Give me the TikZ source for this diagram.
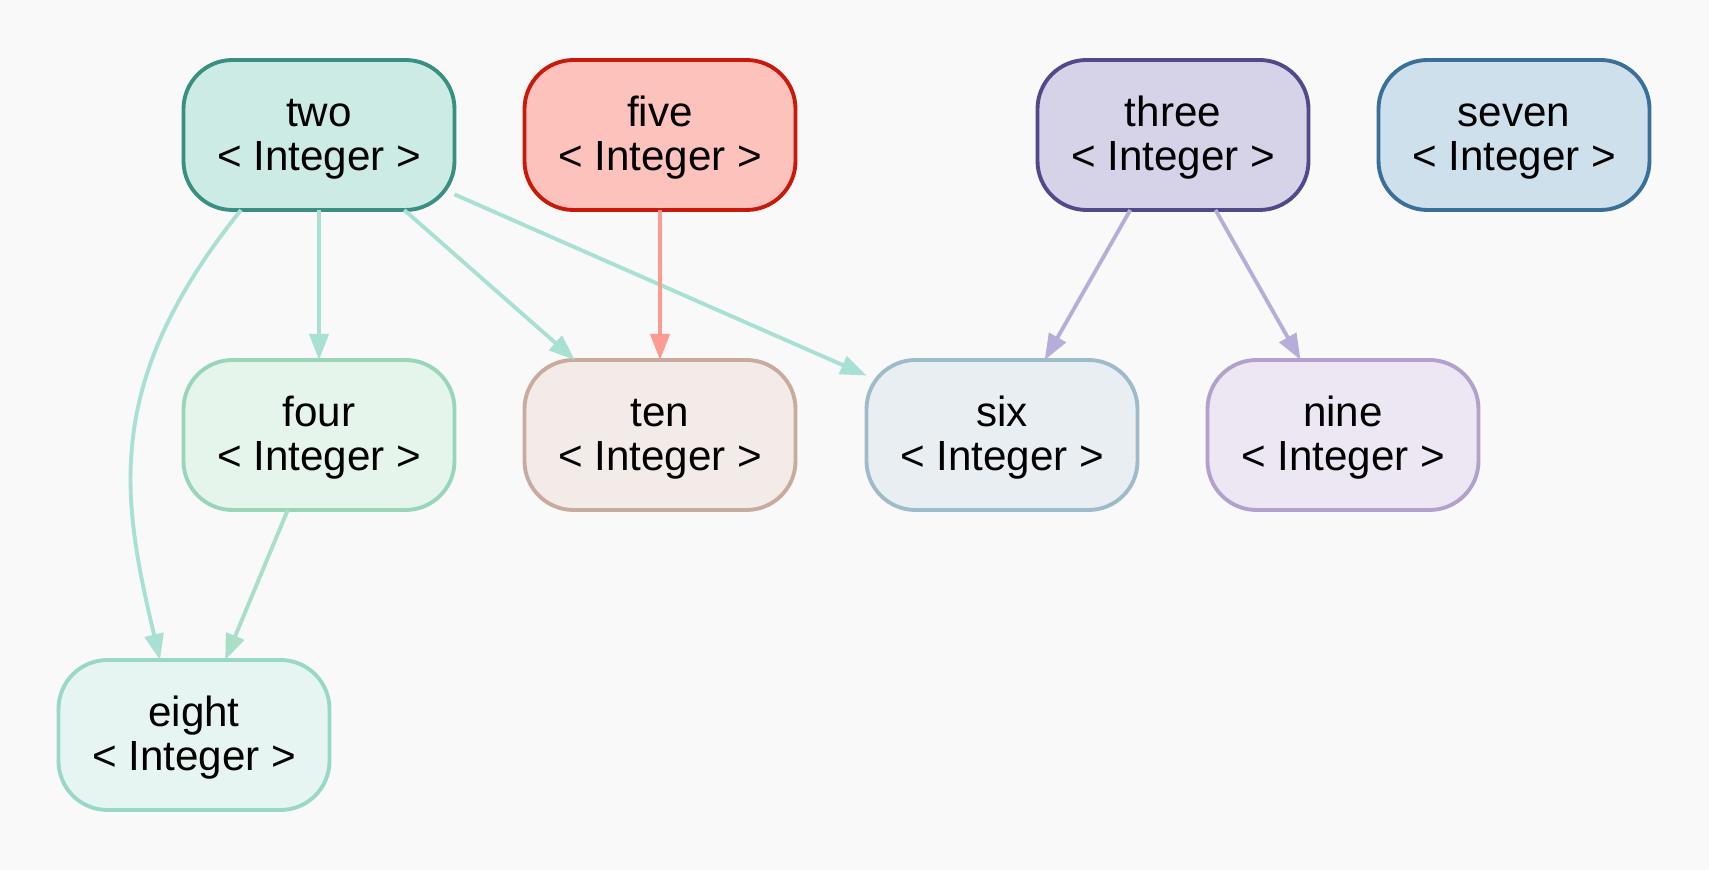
\documentclass[tikz,border=0pt]{standalone}
\usepackage{fontspec}
\setmainfont{Liberation Sans}
\usetikzlibrary{arrows.meta}

\definecolor{bgc}{HTML}{F9F9F9}
\definecolor{twofill}{HTML}{CCEBE5}
\definecolor{twoline}{HTML}{3A9080}
\definecolor{fivefill}{HTML}{FDC2BC}
\definecolor{fiveline}{HTML}{C8190A}
\definecolor{threefill}{HTML}{D6D2E7}
\definecolor{threeline}{HTML}{504A8A}
\definecolor{sevenfill}{HTML}{CDE0EC}
\definecolor{sevenline}{HTML}{3A6F99}
\definecolor{fourfill}{HTML}{E5F5EC}
\definecolor{fourline}{HTML}{99D5B9}
\definecolor{tenfill}{HTML}{F2EBE7}
\definecolor{tenline}{HTML}{C9AB9E}
\definecolor{sixfill}{HTML}{E9EEF3}
\definecolor{sixline}{HTML}{9DBBCB}
\definecolor{ninefill}{HTML}{ECE7F2}
\definecolor{nineline}{HTML}{B3A1CD}
\definecolor{eightfill}{HTML}{E6F5F1}
\definecolor{eightline}{HTML}{99D8C9}
\definecolor{twoedge}{HTML}{A8E0D3}
\definecolor{fouredge}{HTML}{A8DFC6}
\definecolor{fiveedge}{HTML}{FC9B8F}
\definecolor{threeedge}{HTML}{B6AED8}

\newcommand{\intlabel}[1]{\rule{0pt}{11.4pt}#1\\\strut< Integer >}

\begin{document}
\begin{tikzpicture}[>={Triangle[length=0.26cm,width=0.19cm]},
intbox/.style={draw,rounded corners=0.49cm,line width=1.1pt,outer sep=0pt,minimum width=2.71cm,minimum height=1.50cm,align=center,inner sep=0pt,font=\fontsize{12}{12.6}\selectfont},
flow/.style={->,line width=1.1pt},
twoflow/.style={flow,draw=twoedge},
fourflow/.style={flow,draw=fouredge},
fiveflow/.style={flow,draw=fiveedge},
threeflow/.style={flow,draw=threeedge}]
\path[fill=bgc] (0,0) rectangle (17.09,-8.70);
% top row
\node[intbox,draw=twoline,fill=twofill] (two) at (3.19,-1.35) {\intlabel{two}};
\node[intbox,draw=fiveline,fill=fivefill] (five) at (6.60,-1.35) {\intlabel{five}};
\node[intbox,draw=threeline,fill=threefill] (three) at (11.73,-1.35) {\intlabel{three}};
\node[intbox,draw=sevenline,fill=sevenfill] (seven) at (15.14,-1.35) {\intlabel{seven}};
% middle row
\node[intbox,draw=fourline,fill=fourfill] (four) at (3.19,-4.35) {\intlabel{four}};
\node[intbox,draw=tenline,fill=tenfill] (ten) at (6.60,-4.35) {\intlabel{ten}};
\node[intbox,draw=sixline,fill=sixfill] (six) at (10.02,-4.35) {\intlabel{six}};
\node[intbox,draw=nineline,fill=ninefill] (nine) at (13.43,-4.35) {\intlabel{nine}};
% bottom row
\node[intbox,draw=eightline,fill=eightfill] (eight) at (1.94,-7.35) {\intlabel{eight}};
% edges
\draw[twoflow] ([xshift=-0.78cm]two.south) .. controls +(-1.40,-1.74) and +(-0.38,1.61) .. ([xshift=-0.34cm]eight.north);
\draw[twoflow] (two)--(four);
\draw[twoflow] (two)--(ten);
\draw[twoflow] (two)--(six);
\draw[fourflow] (four)--(eight);
\draw[fiveflow] (five)--(ten);
\draw[threeflow] (three)--(six);
\draw[threeflow] (three)--(nine);
\end{tikzpicture}
\end{document}
